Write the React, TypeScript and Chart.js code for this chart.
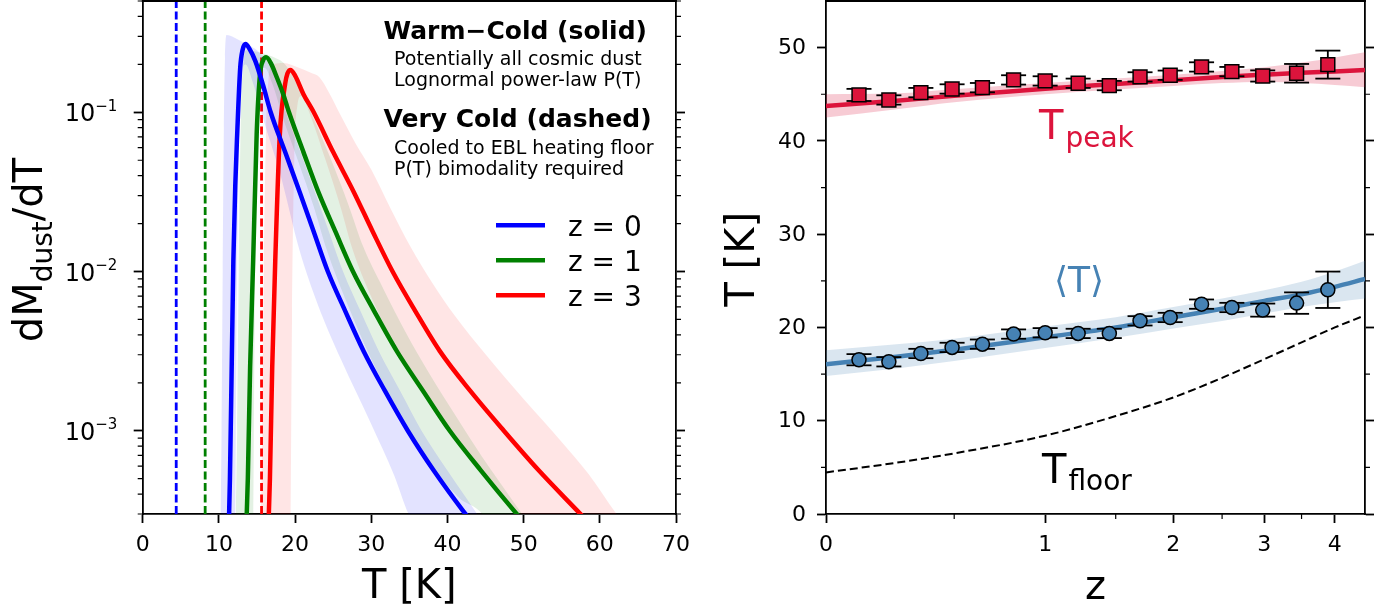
import React, { useEffect, useRef } from 'react';
import { Chart, registerables, LinearScale } from 'chart.js';

Chart.register(...registerables);

// custom scale: axis linear in log10(1+z)
class Log1pScale extends LinearScale {
  static id = 'log1p';
  static defaults = {};
  getPixelForValue(value: number) {
    const a = Math.log10(1 + (this as any).min);
    const b = Math.log10(1 + (this as any).max);
    return (this as any).getPixelForDecimal((Math.log10(1 + value) - a) / (b - a));
  }
  getValueForPixel(pixel: number) {
    const a = Math.log10(1 + (this as any).min);
    const b = Math.log10(1 + (this as any).max);
    return Math.pow(10, a + (this as any).getDecimalForPixel(pixel) * (b - a)) - 1;
  }
}
Chart.register(Log1pScale as any);

const FONT = "'DejaVu Sans', 'Noto Sans', sans-serif";
Chart.defaults.font.family = FONT;

// ---------------- Left panel data ----------------
const tempTicks = [0, 10, 20, 30, 40, 50, 60, 70];
const decadeTicks = [1e-3, 1e-2, 1e-1];
const decadeExps = ['−3', '−2', '−1'];
const yLogMin = 3e-4;
const yLogMax = 0.5;
const seriesLabels = ['z = 0', 'z = 1', 'z = 3'];
const seriesColors = ['#0000ff', '#008000', '#ff0000'];
const bandColors = ['rgba(0,0,255,0.11)', 'rgba(0,128,0,0.11)', 'rgba(255,0,0,0.10)'];
const floorTemps = [4.4, 8.2, 15.6];
const noteLines = [
  'Warm−Cold (solid)',
  'Potentially all cosmic dust',
  'Lognormal power-law P(T)',
  'Very Cold (dashed)',
  'Cooled to EBL heating floor',
  'P(T) bimodality required',
];

// main curves (T in K, dM/dT)
const z0T = [11.3, 11.45, 11.65, 11.9, 12.15, 12.4, 12.8, 13.1, 13.5, 14.0, 14.8, 15.8, 16.8, 18.7, 20.6, 22.45, 24.3, 26.6, 29.0, 31.8, 34.8, 38.2, 42.0, 44.0];
const z0V = [2.51e-4, 5.01e-4, 2.0e-3, 0.01175, 0.0347, 0.0724, 0.1905, 0.2455, 0.268, 0.2512, 0.2089, 0.1479, 0.1, 0.05623, 0.03162, 0.01778, 0.01, 0.005623, 0.003162, 0.001778, 0.001, 5.623e-4, 3.162e-4, 2.399e-4];
const z1T = [13.6, 13.8, 14.1, 14.5, 14.96, 15.4, 15.8, 16.2, 16.8, 17.6, 18.4, 19.2, 21.1, 23.05, 25.3, 27.6, 30.4, 33.35, 36.8, 40.3, 44.4, 48.7, 50.5];
const z1V = [2.51e-4, 5.01e-4, 2.51e-3, 0.01175, 0.0729, 0.1738, 0.2118, 0.2213, 0.2042, 0.166, 0.1318, 0.1, 0.05623, 0.03162, 0.01778, 0.01, 0.005623, 0.003162, 0.001778, 0.001, 5.623e-4, 3.162e-4, 2.512e-4];
const z3T = [16.5, 16.7, 17.0, 17.4, 18.0, 18.7, 19.0, 19.4, 20.0, 21.1, 22.45, 25.0, 27.7, 30.2, 32.8, 35.8, 39.0, 43.0, 47.4, 52.0, 57.0, 59.0];
const z3V = [2.51e-4, 5.01e-4, 2.51e-3, 0.01175, 0.0729, 0.151, 0.175, 0.1845, 0.17, 0.13, 0.1, 0.05623, 0.03162, 0.01778, 0.01, 0.005623, 0.003162, 0.001778, 0.001, 5.623e-4, 3.162e-4, 2.512e-4];

// ensemble envelopes (upper / lower), dM/dT
const z0HiT = [10.2, 10.35, 10.5, 10.65, 10.8, 11.0, 12.0, 13.0, 14.0, 15.0, 16.0, 16.8, 17.8, 18.8, 20.7, 22.6, 24.45, 26.3, 28.6, 31.0, 33.8, 36.6, 40.0, 43.9, 45.0];
const z0HiV = [2.51e-4, 1e-3, 0.01, 0.0794, 0.2188, 0.3055, 0.2951, 0.2786, 0.263, 0.2455, 0.2188, 0.1905, 0.1445, 0.1, 0.05623, 0.03162, 0.01778, 0.01, 0.005623, 0.003162, 0.001778, 0.001, 5.623e-4, 3.0e-4, 2.51e-4];
const z0LoT = [10.2, 12.1, 12.3, 12.6, 13.0, 13.5, 14.5, 16.0, 18.0, 20.6, 23.0, 26.0, 30.0, 33.0, 34.9, 36.0, 45.0];
const z0LoV = [2.51e-4, 2.51e-4, 3.16e-3, 0.0501, 0.1698, 0.1995, 0.1514, 0.0851, 0.0417, 0.0135, 0.00617, 0.00282, 0.0011, 5.25e-4, 3.0e-4, 2.51e-4, 2.51e-4];
const z1HiT = [12.2, 12.4, 12.6, 12.9, 13.2, 13.6, 15.0, 17.0, 18.7, 20.0, 21.5, 23.0, 25.0, 27.0, 29.0, 31.5, 34.5, 37.5, 41.0, 44.5, 48.0, 49.8, 51.0];
const z1HiV = [2.51e-4, 1e-3, 0.01, 0.1, 0.1995, 0.2455, 0.2399, 0.2239, 0.1995, 0.1585, 0.1148, 0.0794, 0.0468, 0.0263, 0.01413, 0.00794, 0.00417, 0.00234, 0.00126, 6.92e-4, 3.98e-4, 3.0e-4, 2.51e-4];
const z1LoT = [12.2, 14.5, 14.7, 15.0, 15.4, 16.0, 17.0, 18.5, 20.5, 22.5, 24.2, 27.0, 30.0, 34.0, 38.0, 41.5, 44.6, 45.5, 51.0];
const z1LoV = [2.51e-4, 2.51e-4, 5.01e-3, 0.0603, 0.1514, 0.1905, 0.1514, 0.0891, 0.0479, 0.0251, 0.0135, 0.00603, 0.00282, 0.0012, 6.03e-4, 3.8e-4, 3.0e-4, 2.51e-4, 2.51e-4];
const z3HiT = [15.5, 15.7, 15.9, 16.2, 16.5, 17.0, 18.5, 20.5, 22.0, 23.2, 24.5, 26.0, 28.0, 30.0, 32.5, 35.1, 38.0, 41.0, 45.0, 50.0, 55.0, 58.5, 62.2, 63.5];
const z3HiV = [2.51e-4, 1e-3, 0.01, 0.0794, 0.1585, 0.1995, 0.2042, 0.1905, 0.1778, 0.166, 0.1318, 0.0955, 0.0631, 0.0437, 0.0251, 0.01445, 0.00851, 0.00525, 0.00302, 0.00158, 8.51e-4, 5.37e-4, 3.0e-4, 2.51e-4];
const z3LoT = [15.5, 19.4, 19.6, 19.9, 20.3, 20.8, 22.0, 24.0, 26.0, 27.6, 30.0, 33.0, 37.0, 41.0, 45.0, 49.4, 50.5, 63.5];
const z3LoV = [2.51e-4, 2.51e-4, 5.01e-3, 0.0501, 0.1096, 0.1259, 0.0955, 0.0501, 0.0251, 0.0135, 0.00692, 0.00347, 0.00166, 8.91e-4, 5.01e-4, 3.0e-4, 2.51e-4, 2.51e-4];

// ---------------- Right panel data ----------------
const zTicks = [0, 1, 2, 3, 4];
const zMinorTicks = [0.5, 1.5, 2.5, 3.5];
const tTicks = [0, 10, 20, 30, 40, 50];
const tMinorTicks = [5, 15, 25, 35, 45];
const zBins = [0.11, 0.22, 0.35, 0.49, 0.64, 0.81, 1.0, 1.22, 1.45, 1.7, 1.97, 2.28, 2.61, 2.98, 3.43, 3.89];
const tPeak = [44.93, 44.39, 45.18, 45.57, 45.71, 46.54, 46.43, 46.18, 45.93, 46.86, 47.04, 47.93, 47.43, 46.96, 47.25, 48.18];
const tPeakErr = [0.65, 0.5, 0.5, 0.5, 0.5, 0.5, 0.5, 0.5, 0.5, 0.5, 0.5, 0.5, 0.5, 0.6, 1.0, 1.5];
const tMean = [16.54, 16.32, 17.21, 17.86, 18.21, 19.29, 19.43, 19.36, 19.36, 20.71, 21.07, 22.5, 22.14, 21.86, 22.61, 24.04];
const tMeanErr = [0.6, 0.5, 0.5, 0.5, 0.5, 0.5, 0.5, 0.5, 0.5, 0.5, 0.5, 0.5, 0.5, 0.7, 1.15, 1.95];
const fitZ = [0, 0.25, 0.5, 1, 1.5, 2, 2.5, 3, 3.5, 4, 4.5];
const tPeakFit = [43.75, 44.3, 44.85, 45.6, 46.1, 46.5, 46.85, 47.1, 47.3, 47.45, 47.6];
const tPeakHi = [45.0, 45.1, 45.55, 46.2, 46.7, 47.1, 47.5, 47.9, 48.4, 48.95, 49.5];
const tPeakLo = [42.5, 43.4, 44.15, 45.0, 45.5, 45.9, 46.2, 46.35, 46.2, 46.0, 45.75];
const tMeanFit = [16.05, 16.85, 17.6, 18.95, 20.0, 21.1, 22.0, 22.85, 23.55, 24.35, 25.2];
const tMeanHi = [17.55, 18.2, 18.8, 20.1, 21.1, 22.2, 23.1, 24.0, 24.9, 26.0, 27.15];
const tMeanLo = [14.8, 15.6, 16.4, 17.8, 18.9, 19.9, 20.7, 21.5, 22.2, 22.7, 23.1];
const tFloor = [4.46, 5.5, 6.5, 8.4, 10.5, 12.5, 14.6, 16.6, 18.4, 20.0, 21.3];

const CRIMSON = '#dc143c';
const STEEL = '#4682b4';

// ---------------- helpers ----------------
const pts = (xs: number[], ys: number[]) => xs.map((x, i) => ({ x, y: ys[i] }));
const errBars = (zs: number[], ts: number[], es: number[]) =>
  zs.flatMap((z, i) => [
    { x: z, y: ts[i] - es[i] },
    { x: z, y: ts[i] + es[i] },
    { x: z, y: null as any },
  ]);

const axisFont = (size: number) => ({ family: FONT, size });

function drawSub(ctx: CanvasRenderingContext2D, main: string, sub: string, x: number, y: number, color: string, s1: number, s2: number, shift: number) {
  ctx.fillStyle = color;
  ctx.textAlign = 'left';
  ctx.textBaseline = 'alphabetic';
  ctx.font = `${s1}px ${FONT}`;
  ctx.fillText(main, x, y);
  const w = ctx.measureText(main).width;
  ctx.font = `${s2}px ${FONT}`;
  ctx.fillText(sub, x + w + 2, y + shift);
}

// ---------------- plugins ----------------
const leftDecor = {
  id: 'leftDecor',
  afterDraw(chart: any) {
    const { ctx, chartArea: a } = chart;
    const ys = chart.scales.y;
    ctx.save();
    ctx.strokeStyle = '#000';
    ctx.lineWidth = 1.8;
    ctx.beginPath();
    ctx.moveTo(a.left - 0.9, a.top);
    ctx.lineTo(a.right + 0.9, a.top);
    ctx.stroke();
    // minor log ticks
    ctx.lineWidth = 1.2;
    for (let e = -4; e <= 0; e++) {
      for (let m = 2; m <= 9; m++) {
        const v = m * Math.pow(10, e);
        if (v < yLogMin * 0.999 || v > yLogMax * 1.001) continue;
        const p = ys.getPixelForValue(v);
        ctx.beginPath();
        ctx.moveTo(a.left, p);
        ctx.lineTo(a.left - 5, p);
        ctx.moveTo(a.right, p);
        ctx.lineTo(a.right + 5, p);
        ctx.stroke();
      }
    }
    // decade labels 10^n
    ctx.fillStyle = '#000';
    ctx.textBaseline = 'alphabetic';
    ctx.textAlign = 'right';
    decadeTicks.forEach((v, i) => {
      const p = ys.getPixelForValue(v);
      const right = a.left - 25.4;
      ctx.font = `15px ${FONT}`;
      const sw = ctx.measureText(decadeExps[i]).width;
      ctx.fillText(decadeExps[i], right, p - 1.5);
      ctx.font = `24px ${FONT}`;
      ctx.fillText('10', right - sw, p + 9);
    });
    // legend
    seriesLabels.forEach((lab, i) => {
      const y = 225.3 + i * 35;
      ctx.strokeStyle = seriesColors[i];
      ctx.lineWidth = 4.5;
      ctx.beginPath();
      ctx.moveTo(496, y);
      ctx.lineTo(545, y);
      ctx.stroke();
      ctx.fillStyle = '#000';
      ctx.font = `28px ${FONT}`;
      ctx.textAlign = 'left';
      ctx.fillText(lab, 568, y + 10.2);
    });
    // notes
    ctx.fillStyle = '#000';
    ctx.textAlign = 'left';
    const notePos = [
      [383.5, 39, 25, true],
      [394, 65, 19, false],
      [394, 86, 19, false],
      [383.5, 126.5, 25, true],
      [394, 153.5, 19, false],
      [394, 175, 19, false],
    ] as const;
    noteLines.forEach((t, i) => {
      const [x, y, s, b] = notePos[i];
      ctx.font = `${b ? 'bold ' : ''}${s}px ${FONT}`;
      ctx.fillText(t, x, y);
    });
    // x title
    ctx.font = `40px ${FONT}`;
    ctx.textAlign = 'center';
    ctx.fillText('T [K]', (a.left + a.right) / 2, 598);
    // y title (rotated, with subscript)
    ctx.save();
    ctx.translate(41.5, 250);
    ctx.rotate(-Math.PI / 2);
    ctx.textAlign = 'left';
    ctx.font = `40px ${FONT}`;
    const w1 = ctx.measureText('dM').width;
    const w3 = ctx.measureText('/dT').width;
    ctx.font = `28px ${FONT}`;
    const w2 = ctx.measureText('dust').width;
    let x0 = -(w1 + w2 + w3) / 2;
    ctx.font = `40px ${FONT}`;
    ctx.fillText('dM', x0, 0);
    x0 += w1;
    ctx.font = `28px ${FONT}`;
    ctx.fillText('dust', x0, 10);
    x0 += w2;
    ctx.font = `40px ${FONT}`;
    ctx.fillText('/dT', x0, 0);
    ctx.restore();
    ctx.restore();
  },
};

const rightDecor = {
  id: 'rightDecor',
  afterDraw(chart: any) {
    const { ctx, chartArea: a } = chart;
    const xs = chart.scales.x;
    const ys = chart.scales.y;
    ctx.save();
    ctx.strokeStyle = '#000';
    ctx.lineWidth = 1.8;
    ctx.beginPath();
    ctx.moveTo(a.left - 0.9, a.top);
    ctx.lineTo(a.right + 0.9, a.top);
    ctx.stroke();
    ctx.lineWidth = 1.2;
    tMinorTicks.forEach((v) => {
      const p = ys.getPixelForValue(v);
      ctx.beginPath();
      ctx.moveTo(a.left, p);
      ctx.lineTo(a.left - 5, p);
      ctx.moveTo(a.right, p);
      ctx.lineTo(a.right + 5, p);
      ctx.stroke();
    });
    zMinorTicks.forEach((v) => {
      const p = xs.getPixelForValue(v);
      ctx.beginPath();
      ctx.moveTo(p, a.bottom);
      ctx.lineTo(p, a.bottom + 5);
      ctx.stroke();
    });
    // y tick labels
    ctx.fillStyle = '#000';
    ctx.font = `22px ${FONT}`;
    ctx.textAlign = 'right';
    ctx.textBaseline = 'middle';
    tTicks.forEach((v) => {
      ctx.fillText(String(v), a.left - 20, ys.getPixelForValue(v) + 1);
    });
    // series labels
    drawSub(ctx, 'T', 'peak', 339, 138.5, CRIMSON, 40, 28, 8);
    ctx.fillStyle = STEEL;
    ctx.font = `36px ${FONT}`;
    ctx.textAlign = 'center';
    ctx.fillText('⟨T⟩', 379, 292);
    drawSub(ctx, 'T', 'floor', 342, 482.7, '#000', 40, 28, 7);
    // axis titles
    ctx.fillStyle = '#000';
    ctx.font = `40px ${FONT}`;
    ctx.textAlign = 'center';
    ctx.textBaseline = 'alphabetic';
    ctx.fillText('z', (a.left + a.right) / 2, 599);
    ctx.save();
    ctx.translate(54, 259.3);
    ctx.rotate(-Math.PI / 2);
    ctx.fillText('T [K]', 0, 0);
    ctx.restore();
    ctx.restore();
  },
};

const gridOpts = { drawOnChartArea: false, drawTicks: true, tickLength: 9, tickWidth: 1.8, tickColor: '#000' };
const borderOpts = { display: true, color: '#000', width: 1.8 };

function leftConfig(): any {
  const mains = [pts(z0T, z0V), pts(z1T, z1V), pts(z3T, z3V)];
  const his = [pts(z0HiT, z0HiV), pts(z1HiT, z1HiV), pts(z3HiT, z3HiV)];
  const los = [pts(z0LoT, z0LoV), pts(z1LoT, z1LoV), pts(z3LoT, z3LoV)];
  const datasets: any[] = [];
  mains.forEach((d, i) => {
    datasets.push({
      data: d, borderColor: seriesColors[i], borderWidth: 4.5, pointRadius: 0,
      cubicInterpolationMode: 'monotone', fill: false, order: i,
    });
  });
  his.forEach((d, i) => {
    const idx = datasets.length;
    datasets.push({
      data: d, borderColor: 'rgba(0,0,0,0)', borderWidth: 0, pointRadius: 0,
      cubicInterpolationMode: 'monotone', backgroundColor: bandColors[i],
      fill: idx + 1, order: 10 + i,
    });
    datasets.push({
      data: los[i], borderColor: 'rgba(0,0,0,0)', borderWidth: 0, pointRadius: 0,
      cubicInterpolationMode: 'monotone', fill: false, order: 10 + i,
    });
  });
  floorTemps.forEach((t, i) => {
    datasets.push({
      data: [{ x: t, y: yLogMin }, { x: t, y: yLogMax }],
      borderColor: seriesColors[i], borderWidth: 2.8, borderDash: [8, 3.5],
      pointRadius: 0, fill: false, order: 20,
    });
  });
  return {
    type: 'line',
    data: { datasets },
    options: {
      animation: false, responsive: false, maintainAspectRatio: false, events: [],
      devicePixelRatio: 1,
      layout: { autoPadding: false, padding: { top: 1, left: 0, right: 0, bottom: 0 } },
      plugins: { legend: { display: false }, tooltip: { enabled: false } },
      scales: {
        x: {
          type: 'linear', min: 0, max: 70, position: 'bottom',
          afterBuildTicks: (s: any) => { s.ticks = tempTicks.map((v) => ({ value: v })); },
          afterFit: (s: any) => { s.height = 95; s.paddingLeft = 0; s.paddingRight = 0; },
          ticks: { color: '#000', font: axisFont(22), padding: 9, maxRotation: 0, autoSkip: false, callback: (v: any) => String(v) },
          grid: gridOpts, border: borderOpts,
        },
        y: {
          type: 'logarithmic', min: yLogMin, max: yLogMax, position: 'left',
          afterBuildTicks: (s: any) => { s.ticks = decadeTicks.map((v) => ({ value: v, major: true })); },
          afterFit: (s: any) => { s.width = 142.7; s.paddingTop = 0; s.paddingBottom = 0; },
          ticks: { display: false },
          grid: gridOpts, border: borderOpts,
        },
        y2: {
          type: 'logarithmic', min: yLogMin, max: yLogMax, position: 'right',
          afterBuildTicks: (s: any) => { s.ticks = decadeTicks.map((v) => ({ value: v, major: true })); },
          afterFit: (s: any) => { s.width = 24; s.paddingTop = 0; s.paddingBottom = 0; },
          ticks: { display: false },
          grid: gridOpts, border: borderOpts,
        },
      },
    },
    plugins: [leftDecor],
  };
}

function rightConfig(): any {
  const datasets: any[] = [
    {
      data: pts(zBins, tPeak), showLine: false, pointStyle: 'rect', pointRadius: 9.8,
      pointBackgroundColor: CRIMSON, pointBorderColor: '#000', pointBorderWidth: 1.5, order: 0,
    },
    {
      data: pts(zBins, tMean), showLine: false, pointStyle: 'circle', pointRadius: 7,
      pointBackgroundColor: STEEL, pointBorderColor: '#000', pointBorderWidth: 1.5, order: 0,
    },
    {
      data: errBars(zBins, tPeak, tPeakErr), borderColor: '#000', borderWidth: 1.8, spanGaps: false,
      pointStyle: 'line', pointRadius: 12.5, pointBorderColor: '#000', pointBorderWidth: 1.8, fill: false, order: 1,
    },
    {
      data: errBars(zBins, tMean, tMeanErr), borderColor: '#000', borderWidth: 1.8, spanGaps: false,
      pointStyle: 'line', pointRadius: 12.5, pointBorderColor: '#000', pointBorderWidth: 1.8, fill: false, order: 1,
    },
    {
      data: pts(fitZ, tFloor), borderColor: '#000', borderWidth: 2, borderDash: [8, 4],
      pointRadius: 0, cubicInterpolationMode: 'monotone', fill: false, order: 2,
    },
    {
      data: pts(fitZ, tPeakFit), borderColor: CRIMSON, borderWidth: 4.5, pointRadius: 0,
      cubicInterpolationMode: 'monotone', fill: false, order: 3,
    },
    {
      data: pts(fitZ, tMeanFit), borderColor: STEEL, borderWidth: 4.5, pointRadius: 0,
      cubicInterpolationMode: 'monotone', fill: false, order: 3,
    },
  ];
  const bands = [
    [tPeakHi, tPeakLo, 'rgba(220,20,60,0.22)'],
    [tMeanHi, tMeanLo, 'rgba(70,130,180,0.2)'],
  ] as const;
  bands.forEach(([hi, lo, col]) => {
    const idx = datasets.length;
    datasets.push({
      data: pts(fitZ, hi as number[]), borderColor: 'rgba(0,0,0,0)', borderWidth: 0, pointRadius: 0,
      cubicInterpolationMode: 'monotone', backgroundColor: col, fill: idx + 1, order: 5,
    });
    datasets.push({
      data: pts(fitZ, lo as number[]), borderColor: 'rgba(0,0,0,0)', borderWidth: 0, pointRadius: 0,
      cubicInterpolationMode: 'monotone', fill: false, order: 5,
    });
  });
  return {
    type: 'line',
    data: { datasets },
    options: {
      animation: false, responsive: false, maintainAspectRatio: false, events: [],
      devicePixelRatio: 1,
      layout: { autoPadding: false, padding: { top: 1, left: 0, right: 0, bottom: 0 } },
      plugins: { legend: { display: false }, tooltip: { enabled: false } },
      scales: {
        x: {
          type: 'log1p', min: 0, max: 4.5, position: 'bottom',
          afterBuildTicks: (s: any) => { s.ticks = zTicks.map((v) => ({ value: v })); },
          afterFit: (s: any) => { s.height = 95; s.paddingLeft = 0; s.paddingRight = 0; },
          ticks: { color: '#000', font: axisFont(22), padding: 9, maxRotation: 0, autoSkip: false, callback: (v: any) => String(v) },
          grid: gridOpts, border: borderOpts,
        },
        y: {
          type: 'linear', min: 0, max: 55, position: 'left',
          afterBuildTicks: (s: any) => { s.ticks = tTicks.map((v) => ({ value: v })); },
          afterFit: (s: any) => { s.width = 126; s.paddingTop = 0; s.paddingBottom = 0; },
          ticks: { display: false },
          grid: gridOpts, border: borderOpts,
        },
        y2: {
          type: 'linear', min: 0, max: 55, position: 'right',
          afterBuildTicks: (s: any) => { s.ticks = tTicks.map((v) => ({ value: v })); },
          afterFit: (s: any) => { s.width = 30; s.paddingTop = 0; s.paddingBottom = 0; },
          ticks: { display: false },
          grid: gridOpts, border: borderOpts,
        },
      },
    },
    plugins: [rightDecor],
  };
}

export default function App() {
  const leftRef = useRef<HTMLCanvasElement>(null);
  const rightRef = useRef<HTMLCanvasElement>(null);
  useEffect(() => {
    const c1 = new Chart(leftRef.current as HTMLCanvasElement, leftConfig());
    const c2 = new Chart(rightRef.current as HTMLCanvasElement, rightConfig());
    return () => {
      c1.destroy();
      c2.destroy();
    };
  }, []);
  return (
    <div style={{ position: 'fixed', left: 0, top: 0, width: 1395, height: 609, background: '#fff', overflow: 'hidden' }}>
      <canvas ref={leftRef} width={700} height={609} style={{ position: 'absolute', left: 0, top: 0, width: 700, height: 609 }} />
      <canvas ref={rightRef} width={695} height={609} style={{ position: 'absolute', left: 700, top: 0, width: 695, height: 609 }} />
    </div>
  );
}
